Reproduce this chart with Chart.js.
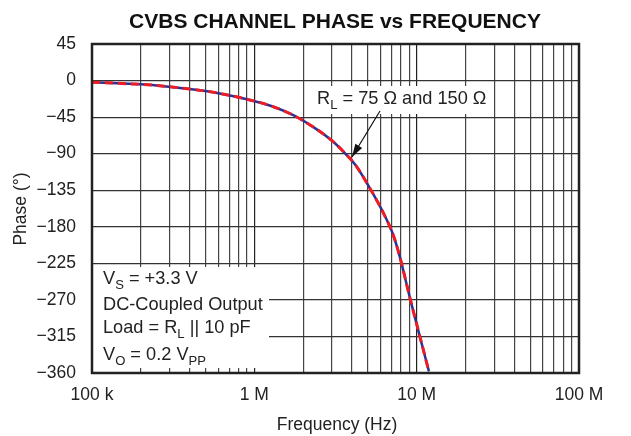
<!DOCTYPE html>
<html>
<head>
<meta charset="utf-8">
<script src="https://cdn.jsdelivr.net/npm/chart.js@4/dist/chart.umd.min.js"></script>
<style>
  body { margin: 0; background: #fff; }
  #wrap { width: 631px; height: 436px; }
</style>
</head>
<body>
<div id="wrap"><canvas id="phaseChart" width="631" height="436"></canvas></div>
<script>
// frequency points (Hz)
const freqs = [1e5, 1.7e5, 2.5e5, 4e5, 6e5, 9e5, 1.3e6, 1.75e6, 2.3e6, 3.05e6, 3.6e6, 4.2e6, 5.2e6, 6.2e6, 7.2e6, 7.9e6, 9.1e6, 10.4e6, 11.9e6];
// phase for RL = 75 ohm and 150 ohm (they overlap)
const phase75 = [-2, -4, -6, -10.5, -15.5, -23, -32, -43, -57, -75, -89, -104, -134, -162, -191, -218, -268, -313, -358];
const phase150 = [-2, -4, -6, -10.5, -15.5, -23, -32, -43, -57, -75, -89, -104, -134, -162, -191, -218, -268, -313, -358];

const yTicks = [45, 0, -45, -90, -135, -180, -225, -270, -315, -360];
const xGrid = [];
for (let d = 1e5; d < 1e8; d *= 10) {
  for (let m = 1; m < 10; m++) xGrid.push(d * m);
}
xGrid.push(1e8);
const xLabels = { 1e5: "100 k", 1e6: "1 M", 1e7: "10 M", 1e8: "100 M" };

const FONT = "'Liberation Sans', Arial, Helvetica, sans-serif";

function toPts(ys) {
  return freqs.map((f, i) => ({ x: f, y: ys[i] }));
}

// draw text made of [text, isSub] parts
function drawParts(ctx, parts, x, y, size) {
  parts.forEach(p => {
    if (p[1]) {
      ctx.font = (size * 0.72) + "px " + FONT;
      ctx.fillText(p[0], x, y + size * 0.28);
    } else {
      ctx.font = size + "px " + FONT;
      ctx.fillText(p[0], x, y);
    }
    x += ctx.measureText(p[0]).width;
  });
}

const overlay = {
  id: "overlay",
  beforeDatasetsDraw(chart) {
    const ctx = chart.ctx;
    ctx.save();
    ctx.fillStyle = "#fff";
    // conditions box
    ctx.fillRect(93, 267, 176, 101);
    // RL label box
    ctx.fillRect(310, 86, 184, 28);

    ctx.fillStyle = "#222";
    ctx.textBaseline = "alphabetic";
    ctx.textAlign = "left";
    const s = 18.2;
    drawParts(ctx, [["V"], ["S", 1], [" = +3.3 V"]], 103, 284, s);
    drawParts(ctx, [["DC-Coupled Output"]], 103, 310, s);
    drawParts(ctx, [["Load = R"], ["L", 1], [" || 10 pF"]], 103, 333, s);
    drawParts(ctx, [["V"], ["O", 1], [" = 0.2 V"], ["PP", 1]], 103, 360, s);

    drawParts(ctx, [["R"], ["L", 1], [" = 75 \u03A9 and 150 \u03A9"]], 317, 104, s);

    // arrow
    const x1 = 380, y1 = 111, x2 = 352, y2 = 157;
    ctx.strokeStyle = "#111";
    ctx.lineWidth = 1.2;
    ctx.beginPath();
    ctx.moveTo(x1, y1);
    ctx.lineTo(x2, y2);
    ctx.stroke();
    const a = Math.atan2(y2 - y1, x2 - x1);
    ctx.fillStyle = "#111";
    ctx.beginPath();
    ctx.moveTo(x2, y2);
    ctx.lineTo(x2 - 13 * Math.cos(a) + 4 * Math.sin(a), y2 - 13 * Math.sin(a) - 4 * Math.cos(a));
    ctx.lineTo(x2 - 13 * Math.cos(a) - 4 * Math.sin(a), y2 - 13 * Math.sin(a) + 4 * Math.cos(a));
    ctx.closePath();
    ctx.fill();
    ctx.restore();
  },
  afterDraw(chart) {
    const ctx = chart.ctx;
    const ca = chart.chartArea;
    ctx.save();
    ctx.strokeStyle = "#222";
    ctx.lineWidth = 2.5;
    ctx.strokeRect(ca.left, ca.top, ca.right - ca.left, ca.bottom - ca.top);

    ctx.fillStyle = "#111";
    ctx.textAlign = "center";
    ctx.textBaseline = "alphabetic";
    ctx.font = "bold 21px " + FONT;
    ctx.fillText("CVBS CHANNEL PHASE vs FREQUENCY", 335, 28);

    ctx.fillStyle = "#222";
    ctx.font = "17.5px " + FONT;
    ctx.fillText("Frequency (Hz)", 337, 430);

    ctx.translate(26, 209);
    ctx.rotate(-Math.PI / 2);
    ctx.fillText("Phase (\u00B0)", 0, 0);
    ctx.restore();
  }
};

new Chart(document.getElementById("phaseChart"), {
  type: "line",
  data: {
    datasets: [
      {
        label: "RL = 150 \u03A9",
        data: toPts(phase150),
        borderColor: "#ee1c25",
        borderWidth: 3,
        borderDash: [8, 5],
        pointRadius: 0,
        cubicInterpolationMode: "monotone",
        fill: false
      },
      {
        label: "RL = 75 \u03A9",
        data: toPts(phase75),
        borderColor: "#2e3192",
        borderWidth: 2.5,
        pointRadius: 0,
        cubicInterpolationMode: "monotone",
        fill: false
      }
    ]
  },
  options: {
    responsive: false,
    animation: false,
    layout: { padding: { top: 44, right: 52, left: 0, bottom: 0 } },
    plugins: {
      legend: { display: false },
      title: { display: false },
      tooltip: { enabled: false }
    },
    scales: {
      x: {
        type: "logarithmic",
        min: 1e5,
        max: 1e8,
        afterBuildTicks: scale => { scale.ticks = xGrid.map(v => ({ value: v })); },
        afterFit: scale => { scale.height = 63; },
        ticks: {
          autoSkip: false,
          maxRotation: 0,
          padding: 12,
          color: "#222",
          font: { family: FONT, size: 17.5 },
          callback: v => xLabels[v] || ""
        },
        grid: {
          drawTicks: false,
          lineWidth: 1.2,
          color: ctx => (xLabels[ctx.tick && ctx.tick.value] ? "#222" : "#444")
        },
        border: { display: false }
      },
      y: {
        min: -360,
        max: 45,
        afterBuildTicks: scale => { scale.ticks = yTicks.map(v => ({ value: v })); },
        afterFit: scale => { scale.width = 92; },
        ticks: {
          padding: 16,
          color: "#222",
          font: { family: FONT, size: 17.5 },
          callback: v => String(v).replace("-", "\u2212")
        },
        grid: { drawTicks: false, lineWidth: 1.2, color: "#333" },
        border: { display: false }
      }
    }
  },
  plugins: [overlay]
});
</script>
</body>
</html>
